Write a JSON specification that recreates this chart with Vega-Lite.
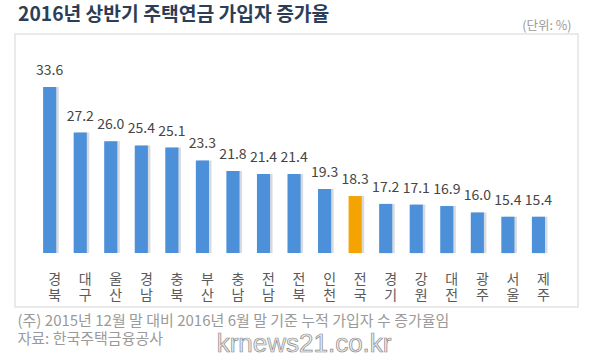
{
  "$schema": "https://vega.github.io/schema/vega-lite/v6.json",
  "autosize": "none",
  "width": 563,
  "height": 273,
  "padding": {"left": 15, "top": 34, "right": 22, "bottom": 56},
  "background": "white",
  "config": {
    "view": {"stroke": "#e3e3e3", "strokeWidth": 1.5},
    "font": "Noto Sans CJK KR"
  },
  "title": {
    "text": "2016년 상반기 주택연금 가입자 증가율",
    "anchor": "start",
    "frame": "group",
    "fontSize": 19.3,
    "fontWeight": "bold",
    "color": "#2c3e57",
    "baseline": "alphabetic",
    "offset": -21.5,
    "dx": 3,
    "font": "Noto Sans CJK KR"
  },
  "data": {
    "values": [
      {"region": "경북", "value": 33.6},
      {"region": "대구", "value": 27.2},
      {"region": "울산", "value": 26.0},
      {"region": "경남", "value": 25.4},
      {"region": "충북", "value": 25.1},
      {"region": "부산", "value": 23.3},
      {"region": "충남", "value": 21.8},
      {"region": "전남", "value": 21.4},
      {"region": "전북", "value": 21.4},
      {"region": "인천", "value": 19.3},
      {"region": "전국", "value": 18.3},
      {"region": "경기", "value": 17.2},
      {"region": "강원", "value": 17.1},
      {"region": "대전", "value": 16.9},
      {"region": "광주", "value": 16.0},
      {"region": "서울", "value": 15.4},
      {"region": "제주", "value": 15.4}
    ]
  },
  "layer": [
    {
      "mark": {"type": "bar", "xOffset": 2.5, "color": "#9aa6b5", "opacity": 0.4},
      "encoding": {
        "x": {"field": "region", "type": "nominal", "sort": null},
        "y": {"field": "value", "type": "quantitative"},
        "y2": {"datum": 10.3}
      }
    },
    {
      "mark": {"type": "bar"},
      "encoding": {
        "x": {
          "field": "region",
          "type": "nominal",
          "sort": null,
          "scale": {"paddingInner": 0.57, "paddingOuter": 1.136, "align": 0.46},
          "axis": {
            "orient": "bottom",
            "offset": -53.5,
            "title": ["(주) 2015년 12월 말 대비 2016년 6월 말 기준 누적 가입자 수 증가율임", "자료: 한국주택금융공사"],
            "labelExpr": "[substring(datum.label,0,1), substring(datum.label,1,2)]",
            "labelAngle": 0,
            "labelAlign": "center",
            "labelOffset": 5,
            "labelBaseline": "middle",
            "labelPadding": 25.5,
            "labelLineHeight": 16,
            "labelFontSize": 14,
            "labelColor": "#5a5a5a",
            "labelOverlap": false,
            "ticks": false,
            "tickSize": 0,
            "domain": false,
            "grid": false,
            "titleX": 2,
            "titleY": 71.5,
            "titleAnchor": "start",
            "titleAlign": "left",
            "titleBaseline": "alphabetic",
            "titleLineHeight": 18,
            "titleFontSize": 15,
            "titleFontWeight": "normal",
            "titleColor": "#9a9a9a"
          }
        },
        "y": {
          "field": "value",
          "type": "quantitative",
          "scale": {"domain": [2.74, 41.03], "nice": false, "zero": false},
          "axis": {
            "orient": "right",
            "title": "(단위: %)",
            "labels": false,
            "ticks": false,
            "domain": false,
            "grid": false,
            "titleAngle": 0,
            "titleX": -7,
            "titleY": -9,
            "titleAlign": "right",
            "titleBaseline": "middle",
            "titleColor": "#9a9a9a",
            "titleFontSize": 12.5,
            "titleFontWeight": "normal"
          }
        },
        "y2": {"datum": 10.3},
        "color": {
          "condition": {"test": "datum.region === '전국'", "value": "#f5a300"},
          "value": "#4b90d8"
        }
      }
    },
    {
      "mark": {"type": "text", "baseline": "middle", "dy": -16, "fontSize": 14, "color": "#454545"},
      "encoding": {
        "x": {"field": "region", "type": "nominal", "sort": null},
        "y": {"field": "value", "type": "quantitative"},
        "text": {"field": "value", "type": "quantitative", "format": ".1f"}
      }
    },
    {
      "data": {"values": [{"mark": "krnews21.co.kr"}]},
      "mark": {"type": "text", "font": "Liberation Sans", "fontSize": 26, "fill": "#eeeeee", "stroke": "#8a8a8a", "strokeWidth": 0.7, "baseline": "middle", "align": "center", "dx": 10, "clip": false},
      "encoding": {
        "x": {"datum": "전북", "type": "nominal"},
        "y": {"datum": -2.45, "type": "quantitative"},
        "text": {"field": "mark", "type": "nominal"}
      }
    }
  ]
}
